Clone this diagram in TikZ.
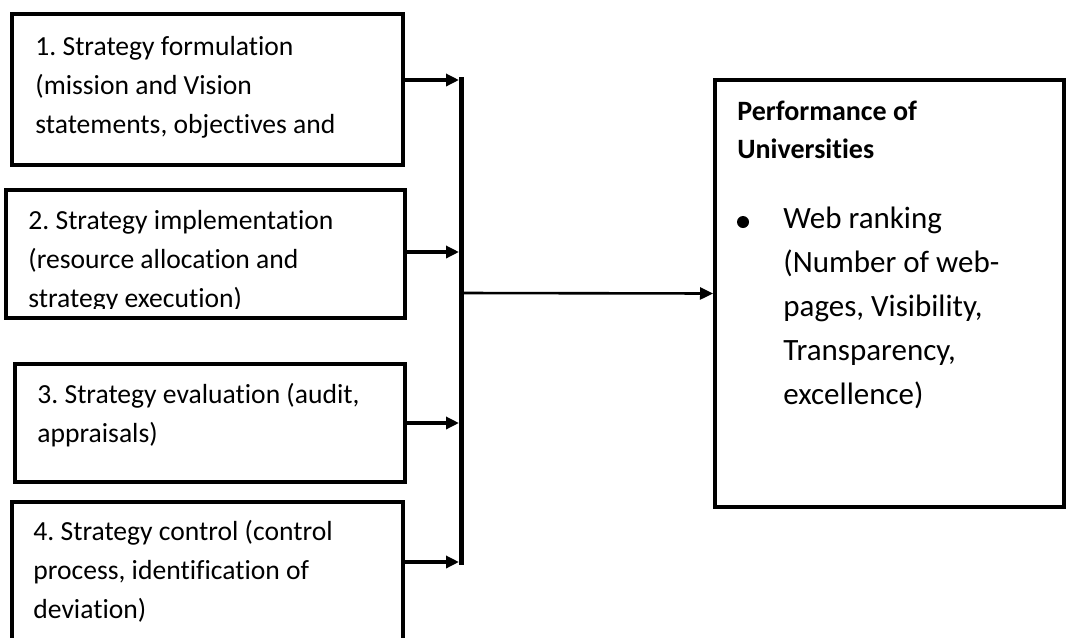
\documentclass[tikz,border=0pt]{standalone}
\usepackage{fontspec}
\setmainfont{Carlito}[Ligatures=NoCommon]
\usetikzlibrary{arrows.meta,fit}

\tikzset{
  box/.style={draw, line width=2pt, inner sep=0pt},
  txt/.style={anchor=base west, inner sep=0pt, align=left,
    font=\frenchspacing\fontsize{13.8}{19.5}\selectfont},
  feed/.style={line width=1.75pt, -{Triangle[length=6.5pt,width=6pt]}},
}

\begin{document}
\begin{tikzpicture}[x=0.5pt,y=-0.5pt]
\clip (0,0) rectangle (1067,638);
% strategy boxes (text placed at the baseline of its last line)
\node[box, fit={(12,14) (403,165)}] (form) {};
\node[txt] (tform) at (35,133) {1. Strategy formulation\\(mission and Vision\\statements, objectives and};
\node[box, fit={(6,190) (405,318)}] (impl) {};
\begin{scope}
\clip (0,190) rectangle (405,308);
\node[txt] (timpl) at (28,307) {2. Strategy implementation\\(resource allocation and\\strategy execution)};
\end{scope}
\node[box, fit={(15,364) (405,482)}] (eval) {};
\node[txt] (teval) at (37,442) {3. Strategy evaluation (audit,\\appraisals)};
\node[box, fit={(12,502) (403,680)}] (ctrl) {};
\node[txt] (tctrl) at (33,618) {4. Strategy control (control\\process, identification of\\deviation)};
% collecting bar
\coordinate (bartop) at (461,77);
\coordinate (barbot) at (461,565);
\draw[line width=2.5pt] (bartop) -- (barbot);
\coordinate (in1) at (459,80);
\coordinate (in2) at (459,252);
\coordinate (in3) at (459,423);
\coordinate (in4) at (459,562);
\draw[feed] (form.east |- in1) -- (in1);
\draw[feed] (impl.east |- in2) -- (in2);
\draw[feed] (eval.east |- in3) -- (in3);
\draw[feed] (ctrl.east |- in4) -- (in4);
% performance box
\node[box, fit={(715,80) (1064,507)}] (perf) {};
\coordinate (hub) at (461,293);
\draw[feed, line width=1.3pt] (hub) -- (perf.west);
\node[txt, font=\bfseries\fontsize{14}{19}\selectfont] (thead) at (737,158) {Performance of\\Universities};
\node[circle, fill, inner sep=0pt, minimum size=6pt] (dot) at (743,222) {};
\node[txt, font=\fontsize{15.5}{22}\selectfont] (tweb) at (783,404) {Web ranking\\(Number of web-\\pages, Visibility,\\Transparency,\\excellence)};
\end{tikzpicture}
\end{document}
